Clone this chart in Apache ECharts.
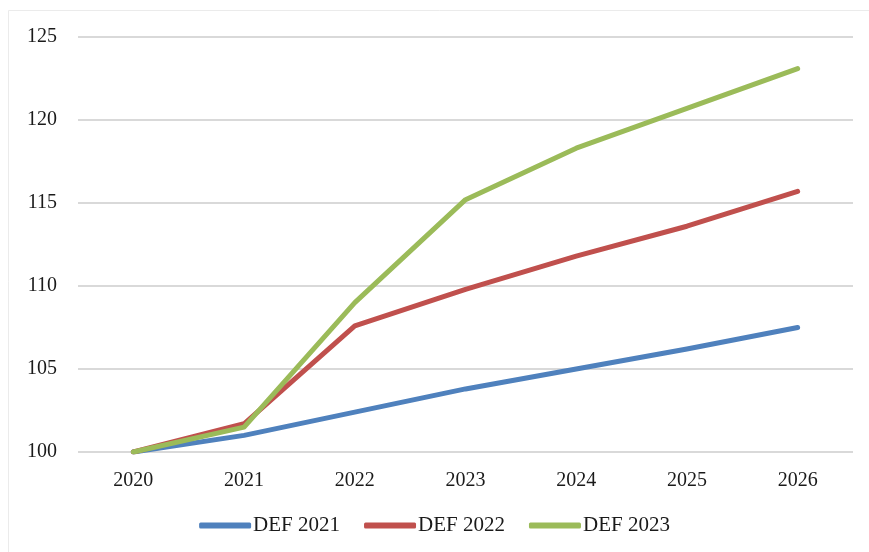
<!DOCTYPE html>
<html>
<head>
<meta charset="utf-8">
<script src="https://cdn.jsdelivr.net/npm/echarts@6/dist/echarts.min.js"></script>
<style>
html,body{margin:0;padding:0;background:#fff;}
#c{width:869px;height:552px;}
</style>
</head>
<body>
<div id="c"></div>
<script>
const categories = ['2020','2021','2022','2023','2024','2025','2026'];
const def2021 = [100, 101.0, 102.4, 103.8, 105.0, 106.2, 107.5];
const def2022 = [100, 101.7, 107.6, 109.8, 111.8, 113.6, 115.7];
const def2023 = [100, 101.5, 109.0, 115.2, 118.3, 120.7, 123.1];
const seriesNames = ['DEF 2021','DEF 2022','DEF 2023'];
const colors = ['#4F81BD','#C0504D','#9BBB59'];

const chart = echarts.init(document.getElementById('c'));
const font = '"Liberation Serif", "Times New Roman", serif';
const mk = (name, data, color) => ({
  name, type:'line', data, symbol:'none', smooth:false,
  lineStyle:{width:5, color, cap:'round', join:'round'}, itemStyle:{color}
});
chart.setOption({
  animation:false,
  backgroundColor:'#fff',
  graphic:[{type:'rect', shape:{x:8.5,y:10.5,width:870,height:550}, style:{fill:'none', stroke:'#ebebeb', lineWidth:1}, silent:true}],
  grid:{left:78, right:16, top:37, bottom:100},
  xAxis:{type:'category', data:categories, boundaryGap:true,
    axisLine:{show:false}, axisTick:{show:false},
    axisLabel:{color:'#1a1a1a', fontFamily:font, fontSize:20, margin:19}},
  yAxis:{type:'value', min:100, max:125, interval:5,
    axisLine:{show:false}, axisTick:{show:false},
    axisLabel:{color:'#1a1a1a', fontFamily:font, fontSize:20, margin:21},
    splitLine:{lineStyle:{color:'#d9d9d9', width:2}}},
  legend:{top:510, left:'center', itemWidth:52, itemHeight:6, itemGap:24,
    icon:'roundRect',
    textStyle:{color:'#1a1a1a', fontFamily:font, fontSize:21, padding:[0,0,0,-3]},
    data:seriesNames},
  series:[mk(seriesNames[0], def2021, colors[0]), mk(seriesNames[1], def2022, colors[1]), mk(seriesNames[2], def2023, colors[2])]
});
</script>
</body>
</html>
